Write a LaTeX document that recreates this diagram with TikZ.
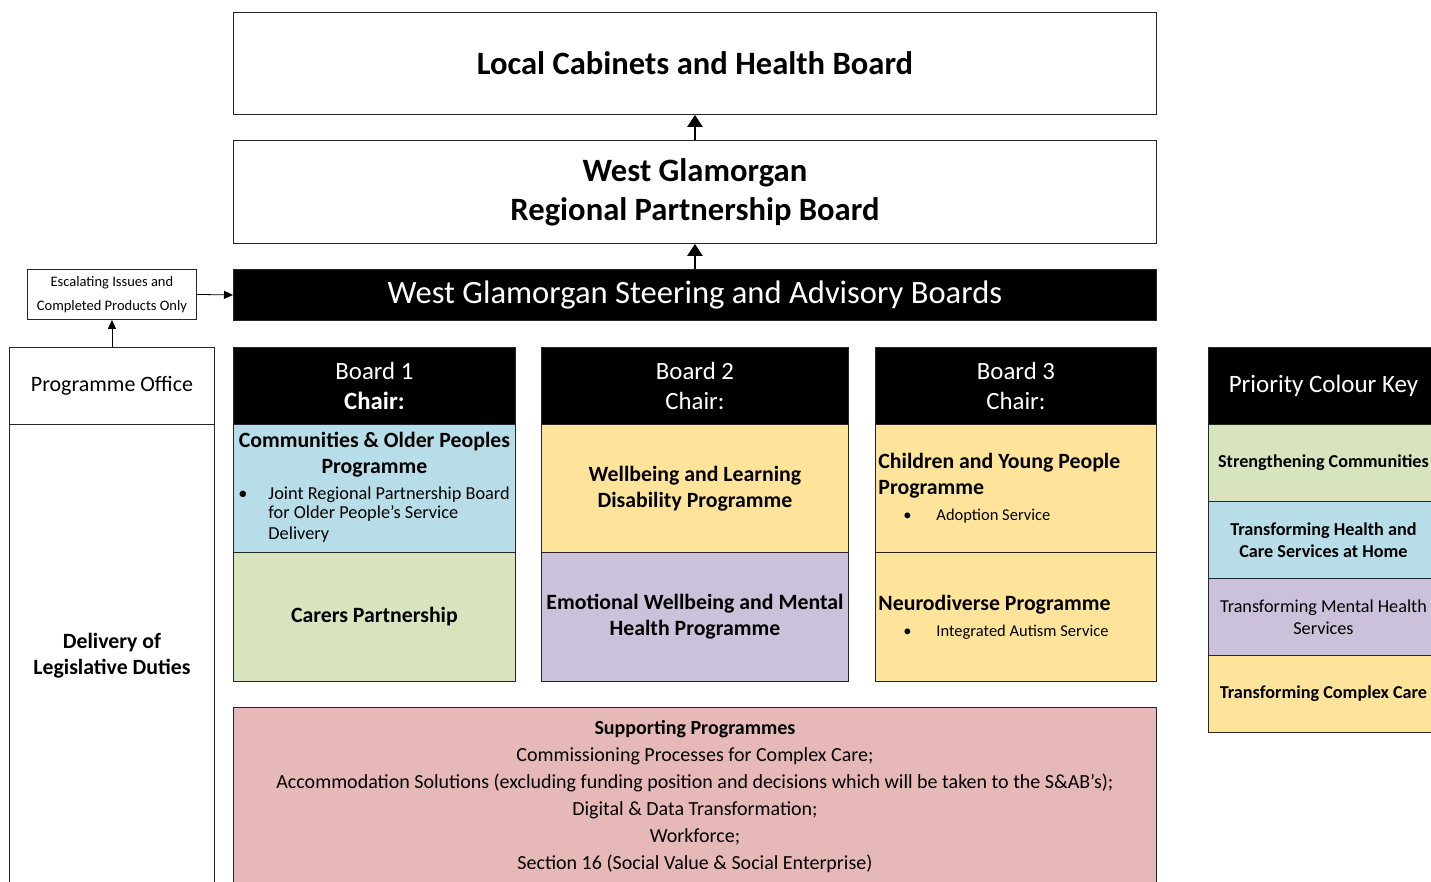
\documentclass[tikz,border=0pt]{standalone}
\usepackage{fontspec}
\setmainfont{Carlito}
\usetikzlibrary{arrows.meta,positioning}
\definecolor{progblue}{HTML}{B7DEE8}
\definecolor{proggreen}{HTML}{D7E4BD}
\definecolor{progyellow}{HTML}{FEE49A}
\definecolor{progpurple}{HTML}{CCC1DA}
\definecolor{progpink}{HTML}{E6B9B8}
\newcommand{\fs}[2]{\fontsize{#1}{#2}\selectfont}
\begin{document}
\begin{tikzpicture}[x=1pt,y=-1pt,
    box/.style={draw=black!85, line width=0.9pt, anchor=north west, inner sep=3pt, align=center, font=\fs{21.8}{26}},
    blackbox/.style={box, fill=black, text=white},
    up/.style={-{Triangle[width=15pt,length=12pt]}, line width=2.5pt},
    thinarrow/.style={-{Triangle[width=8pt,length=9pt]}, line width=0.8pt}]
    \useasboundingbox (0,0) rectangle (1431,881);
    \clip (0,0) rectangle (1431,881);
    \fill[white] (0,0) rectangle (1431,881);

    \node[box, minimum width=923, minimum height=102, font=\bfseries\fs{32.6}{39}] (cab) at (233,12) {Local Cabinets and Health Board};
    \node[box, minimum width=923, minimum height=103, font=\bfseries\fs{32.6}{39}] (rpb) at (233,140) {West Glamorgan\\Regional Partnership Board};
    \node[blackbox, minimum width=923, minimum height=51, font=\fs{32.6}{36}] (sab) at (233,269) {West Glamorgan Steering and Advisory Boards};
    \node[box, minimum width=169, minimum height=50, font=\fs{14.5}{24}] (esc) at (27,269) {Escalating Issues and\\Completed Products Only};
    \node[box, minimum width=205, minimum height=77, font=\fs{22}{26}] (po) at (9,347) {Programme Office};
    \node[box, minimum width=205, minimum height=462, font=\bfseries\fs{21.8}{26}] (dld) at (9,424) {Delivery of\\Legislative Duties};

    \node[blackbox, minimum width=282, minimum height=77, font=\fs{24.8}{30}] (b1) at (233,347) {Board 1\\\textbf{Chair:}};
    \node[box, fill=progblue, minimum width=282, minimum height=128, text width=276, align=flush left] (b1a) at (233,424)
        {{\centering\bfseries\fs{21.8}{26}Communities \& Older Peoples\\Programme\par}
         \fs{18.3}{18}\noindent\makebox[32pt][l]{\hspace{2pt}\textbullet}\begin{tabular}[t]{@{}l@{}}Joint Regional Partnership Board\\for Older People’s Service\\[3pt]Delivery\end{tabular}};
    \node[box, fill=proggreen, minimum width=282, minimum height=129, font=\bfseries\fs{21.8}{26}] (b1b) at (233,552) {Carers Partnership};

    \node[blackbox, minimum width=307, minimum height=77, font=\fs{24.8}{30}] (b2) at (541,347) {Board 2\\Chair:};
    \node[box, fill=progyellow, minimum width=307, minimum height=128, font=\bfseries\fs{21.8}{26}] (b2a) at (541,424) {Wellbeing and Learning\\Disability Programme};
    \node[box, fill=progpurple, minimum width=307, minimum height=129, font=\bfseries\fs{21.8}{26}] (b2b) at (541,552) {Emotional Wellbeing and Mental\\Health Programme};

    \node[blackbox, minimum width=281, minimum height=77, font=\fs{24.8}{30}] (b3) at (875,347) {Board 3\\Chair:};
    \node[box, fill=progyellow, minimum width=281, minimum height=128, text width=275, align=flush left] (b3a) at (875,424)
        {{\bfseries\fs{21.8}{26}Children and Young People\\Programme\par}
         \fs{16.5}{23}\noindent\hspace*{25pt}\makebox[33pt][l]{\textbullet}Adoption Service};
    \node[box, fill=progyellow, minimum width=281, minimum height=129, text width=275, align=flush left] (b3b) at (875,552)
        {{\bfseries\fs{21.8}{26}Neurodiverse Programme\par}
         \fs{16.5}{24}\noindent\hspace*{25pt}\makebox[33pt][l]{\textbullet}Integrated Autism Service};

    \node[blackbox, minimum width=230, minimum height=77, font=\fs{25}{30}] (key) at (1208,347) {Priority Colour Key};
    \node[box, fill=proggreen, minimum width=230, minimum height=77, font=\bfseries\fs{18.2}{22}] (k1) at (1208,424) {Strengthening Communities};
    \node[box, fill=progblue, minimum width=230, minimum height=77, font=\bfseries\fs{18.2}{22}] (k2) at (1208,501) {Transforming Health and\\Care Services at Home};
    \node[box, fill=progpurple, minimum width=230, minimum height=77, font=\fs{18.2}{22}] (k3) at (1208,578) {Transforming Mental Health\\Services};
    \node[box, fill=progyellow, minimum width=230, minimum height=77, font=\bfseries\fs{18.2}{22}] (k4) at (1208,655) {Transforming Complex Care};

    \node[box, fill=progpink, minimum width=923, minimum height=178, font=\fs{20}{27}] (sup) at (233,707)
        {\textbf{Supporting Programmes}\\Commissioning Processes for Complex Care;\\Accommodation Solutions (excluding funding position and decisions which will be taken to the S\&AB’s);\\Digital \& Data Transformation;\\Workforce;\\Section 16 (Social Value \& Social Enterprise)};

    \draw[up] (rpb.north) -- (cab.south);
    \draw[up] (sab.north) -- (rpb.south);
    \draw[thinarrow] (esc.east) -- (sab.west);
    \draw[thinarrow] (po.north) -- (esc.south);
\end{tikzpicture}
\end{document}
